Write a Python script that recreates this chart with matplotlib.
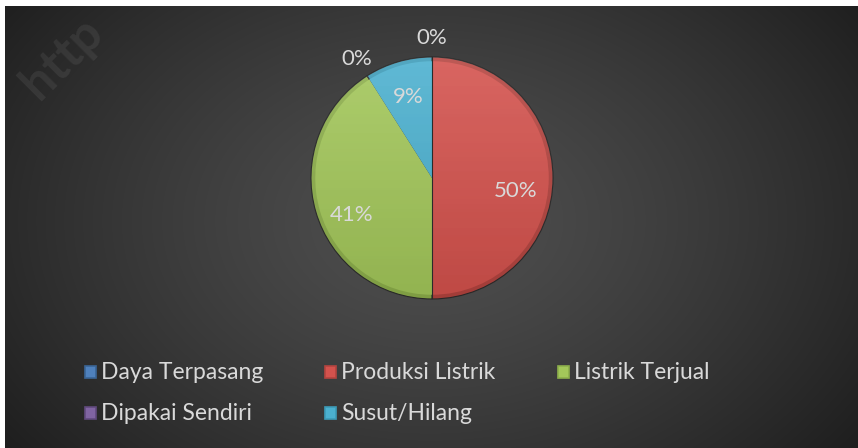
import numpy as np
import matplotlib
matplotlib.use("Agg")
import matplotlib.pyplot as plt
from matplotlib.patches import Rectangle, Circle

plt.rcParams['font.family'] = ['Lato', 'DejaVu Sans']

# data (shares of the total)
categories = ['Daya Terpasang', 'Produksi Listrik', 'Listrik Terjual',
              'Dipakai Sendiri', 'Susut/Hilang']
shares = [0.0, 50.0, 41.0, 0.0, 9.0]
colours = ['#4F81BD', '#D4524D', '#A3C75A', '#8064A2', '#4BB0CF']
rims = ['#3A6596', '#B4443F', '#8DAF4B', '#614A7E', '#3C9BB8']

W, H = 858, 448
fig = plt.figure(figsize=(W / 100, H / 100), dpi=100)
fig.patch.set_facecolor('white')

# dark panel with radial gradient
bg = fig.add_axes([5 / W, 0, (W - 5) / W, (H - 6) / H])
bg.set_axis_off()
ph, pw = H - 6, W - 5
yy, xx = np.mgrid[0:ph, 0:pw]
d = np.sqrt(((xx - 425) / (pw * 0.62)) ** 2 + ((yy - 215) / (ph * 0.85)) ** 2)
d = np.clip(d, 0, 1)
shade = 0.31 - 0.19 * d ** 1.3
bg.imshow(np.dstack([shade] * 3), aspect='auto', extent=[0, 1, 0, 1],
          interpolation='bilinear')
bg.set_xlim(0, 1)
bg.set_ylim(0, 1)

# watermark in the corner
fig.text(62 / W, 1 - 58 / H, 'http', rotation=45, fontsize=36, fontweight='bold',
         color='white', alpha=0.07, ha='center', va='center')

# pie
R = 121
cx, cy = 432, H - 178
ax = fig.add_axes([(cx - R) / W, (cy - R) / H, 2 * R / W, 2 * R / H])
ax.pie(shares, colors=rims, startangle=90, counterclock=False, radius=1.0,
       wedgeprops=dict(linewidth=0.8, edgecolor='#2a2a2a'))
wedges, _, autotexts = ax.pie(
    shares, colors=colours, startangle=90, counterclock=False, radius=0.965,
    autopct='%1.0f%%', pctdistance=0.72,
    wedgeprops=dict(linewidth=0),
    textprops=dict(color='#D9D9D9', fontsize=16))

# soft light from the top-left, shadow to the bottom
g = np.linspace(1, 0, 200)
light = np.dstack([np.ones((200, 200))] * 3 + [np.outer(g, np.ones(200)) * 0.12])
im = ax.imshow(light, extent=[-1, 1, -1, 1], zorder=5)
im.set_clip_path(Circle((0, 0), 1.0, transform=ax.transData))
dark = np.dstack([np.zeros((200, 200))] * 3 + [np.outer(g[::-1], np.ones(200)) * 0.10])
im2 = ax.imshow(dark, extent=[-1, 1, -1, 1], zorder=5)
im2.set_clip_path(Circle((0, 0), 1.0, transform=ax.transData))
ax.plot([0, 0], [-1, 1], color='#2a2a2a', lw=0.8, zorder=5)

for w, t, v in zip(wedges, autotexts, shares):
    t.set_zorder(6)
    ang = np.deg2rad((w.theta1 + w.theta2) / 2)
    if v == 0:
        t.set_position((1.16 * np.cos(ang), 1.16 * np.sin(ang)))
    elif v > 20:
        x0, y0 = t.get_position()
        t.set_position((x0, y0 - 0.11))

ax.set_xlim(-1, 1)
ax.set_ylim(-1, 1)
ax.set_aspect('equal')
ax.set_axis_off()

# legend, row-major like the original
col_x = [90, 330, 563]
row_y = [372, 413]
for i, (name, c, rc) in enumerate(zip(categories, colours, rims)):
    x = col_x[i % 3]
    y = row_y[i // 3]
    fig.patches.append(Rectangle(((x - 5) / W, (H - y - 6) / H), 11 / W, 12 / H,
                                 transform=fig.transFigure, facecolor=c,
                                 edgecolor=rc, linewidth=1.2))
    fig.text((x + 11) / W, (H - y) / H, name, color='#D9D9D9', fontsize=16.5,
             ha='left', va='center')

fig.savefig('out.png', dpi=100, facecolor=fig.get_facecolor())
